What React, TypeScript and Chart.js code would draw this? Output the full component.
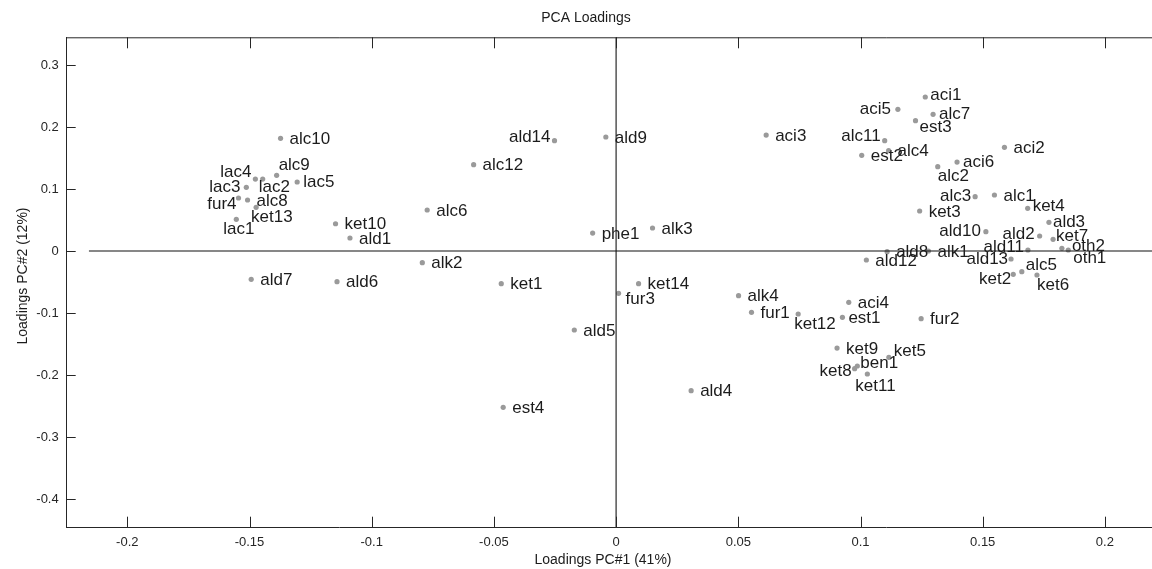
import React, { useEffect, useRef } from "react";
import { Chart, registerables } from "chart.js";

Chart.register(...registerables);

// ---- data ----
const variableNames = [
  "aci1", "aci2", "aci3", "aci4", "aci5", "aci6",
  "alc1", "alc2", "alc3", "alc4", "alc5", "alc6", "alc7", "alc8", "alc9", "alc10", "alc11", "alc12",
  "ald1", "ald2", "ald3", "ald4", "ald5", "ald6", "ald7", "ald8", "ald9", "ald10", "ald11", "ald12", "ald13", "ald14",
  "alk1", "alk2", "alk3", "alk4",
  "ben1",
  "est1", "est2", "est3", "est4",
  "fur1", "fur2", "fur3", "fur4",
  "ket1", "ket2", "ket3", "ket4", "ket5", "ket6", "ket7", "ket8", "ket9", "ket10", "ket11", "ket12", "ket13", "ket14",
  "lac1", "lac2", "lac3", "lac4", "lac5",
  "oth1", "oth2",
  "phe1",
];

const pc1Loadings = [
  0.1265, 0.1589, 0.0614, 0.0952, 0.1153, 0.1395,
  0.1548, 0.1316, 0.1469, 0.1115, 0.166, -0.0773, 0.1297, -0.1508, -0.1389, -0.1373, 0.1099, -0.0583,
  -0.1089, 0.1733, 0.1771, 0.0307, -0.0171, -0.1142, -0.1493, 0.1109, -0.0042, 0.1513, 0.1685, 0.1024, 0.1616, -0.0252,
  0.1278, -0.0793, 0.0149, 0.0501,
  0.0987,
  0.0926, 0.1005, 0.1225, -0.0462,
  0.0554, 0.1248, 0.001, -0.1545,
  -0.047, 0.1625, 0.1242, 0.1684, 0.1116, 0.1722, 0.1788, 0.0976, 0.0904, -0.1148, 0.1028, 0.0745, -0.1473, 0.0092,
  -0.1554, -0.1446, -0.1513, -0.1476, -0.1305,
  0.185, 0.1824,
  -0.0096,
];

const pc2Loadings = [
  0.2484, 0.1672, 0.187, -0.0828, 0.2285, 0.1435,
  0.0903, 0.136, 0.0876, 0.1618, -0.0333, 0.0661, 0.2204, 0.0823, 0.1221, 0.1818, 0.1779, 0.1392,
  0.021, 0.0242, 0.0463, -0.2253, -0.1274, -0.0495, -0.0457, -0.0011, 0.1839, 0.0312, 0.0016, -0.0145, -0.0129, 0.1779,
  0.0, -0.0188, 0.0371, -0.072,
  -0.1855,
  -0.107, 0.1543, 0.2102, -0.2522,
  -0.0989, -0.1091, -0.0683, 0.0855,
  -0.0527, -0.0376, 0.0645, 0.0688, -0.1715, -0.0387, 0.0188, -0.1898, -0.1565, 0.044, -0.1984, -0.1016, 0.0705, -0.0527,
  0.0511, 0.1161, 0.1027, 0.1161, 0.1113,
  0.0016, 0.0043,
  0.029,
];

const chartTitle = "PCA Loadings";
const xAxisTitle = "Loadings PC#1 (41%)";
const yAxisTitle = "Loadings PC#2 (12%)";

const xRange = [-0.2248, 0.2223];
const yRange = [-0.4463, 0.3447];
const xTickStep = 0.05;
const yTickStep = 0.1;
const horizontalRefLineX = [-0.2157, 0.2223];

// label placement: [anchor side, dx px, dy px] (layout only)
const defaultPlacement: [string, number, number] = ["l", 9, 1];
const labelPlacement: Record<string, [string, number, number]> = {
  alc9: ["l", 2, -10],
  lac4: ["r", -4, -7],
  lac2: ["l", -4, 8],
  lac5: ["l", 6, 0],
  lac3: ["r", -6, 0],
  fur4: ["r", -2, 6],
  ket13: ["l", -5, 10],
  lac1: ["l", -13, 10],
  ald14: ["r", -4, -3],
  fur3: ["l", 7, 6],
  ket12: ["l", -4, 10],
  est1: ["l", 6, 1],
  ket5: ["l", 5, -6],
  ben1: ["l", 3, -3],
  ket8: ["r", -3, 3],
  ket11: ["l", -12, 12],
  aci1: ["l", 5, -2],
  aci5: ["r", -7, 0],
  alc7: ["l", 6, 0],
  est3: ["l", 4, 7],
  alc11: ["r", -4, -4],
  alc2: ["l", 0, 10],
  aci6: ["l", 6, 0],
  alc3: ["r", -4, 0],
  ket4: ["l", 5, -2],
  ald3: ["l", 4, 0],
  ald10: ["r", -5, 0],
  ald2: ["r", -5, -2],
  ket7: ["l", 3, -3],
  oth2: ["l", 10, -2],
  oth1: ["l", 5, 8],
  ald11: ["r", -4, -3],
  ald13: ["r", -3, 0],
  alc5: ["l", 4, -6],
  ket6: ["l", 0, 10],
  ket2: ["r", -2, 5],
};

const FONT = "'Liberation Sans', Arial, Helvetica, sans-serif";
const AXIS_COLOR = "#262626";
const CANVAS_W = 1162;
const CANVAS_H = 569;

const fmt = (v: number) => String(Math.round(v * 100) / 100);

const overlayPlugin = {
  id: "pcaOverlay",
  afterDatasetsDraw(chart: any) {
    const ctx = chart.ctx;
    const meta = chart.getDatasetMeta(0);
    ctx.save();
    ctx.font = `17px ${FONT}`;
    ctx.fillStyle = "#1c1c1c";
    ctx.textBaseline = "middle";
    meta.data.forEach((pt: any, i: number) => {
      const name = variableNames[i];
      const [side, dx, dy] = labelPlacement[name] || defaultPlacement;
      ctx.textAlign = side === "r" ? "right" : "left";
      ctx.fillText(name, pt.x + dx, pt.y + dy);
    });
    ctx.restore();
  },
  afterDraw(chart: any) {
    const ctx = chart.ctx;
    const { left, right, top, bottom } = chart.chartArea;
    const xs = chart.scales.x;
    const ys = chart.scales.y;
    ctx.save();
    ctx.strokeStyle = AXIS_COLOR;
    ctx.lineWidth = 1;
    // top frame line
    ctx.beginPath();
    ctx.moveTo(left, top + 0.5);
    ctx.lineTo(right, top + 0.5);
    ctx.stroke();
    // inward ticks
    ctx.beginPath();
    xs.ticks.forEach((t: any) => {
      const px = Math.round(xs.getPixelForValue(t.value)) + 0.5;
      ctx.moveTo(px, bottom);
      ctx.lineTo(px, bottom - 11);
      ctx.moveTo(px, top);
      ctx.lineTo(px, top + 11);
    });
    ys.ticks.forEach((t: any) => {
      const py = Math.round(ys.getPixelForValue(t.value)) + 0.5;
      ctx.moveTo(left, py);
      ctx.lineTo(left + 9, py);
    });
    ctx.stroke();
    // titles
    ctx.fillStyle = "#1c1c1c";
    ctx.font = `14px ${FONT}`;
    ctx.textAlign = "center";
    ctx.textBaseline = "middle";
    ctx.fillText(chartTitle, 586, 18);
    ctx.fillText(xAxisTitle, 603, 560);
    ctx.save();
    ctx.translate(23, 276);
    ctx.rotate(-Math.PI / 2);
    ctx.fillText(yAxisTitle, 0, 0);
    ctx.restore();
    ctx.restore();
  },
};

export default function App() {
  const canvasRef = useRef<HTMLCanvasElement | null>(null);

  useEffect(() => {
    if (!canvasRef.current) return;
    const points = pc1Loadings.map((x, i) => ({ x, y: pc2Loadings[i] }));
    const chart = new Chart(canvasRef.current, {
      type: "scatter",
      data: {
        datasets: [
          {
            label: "loadings",
            data: points,
            pointRadius: 2.6,
            pointHoverRadius: 2.6,
            pointBackgroundColor: "#9a9a9a",
            pointBorderWidth: 0,
            order: 2,
          },
          {
            label: "h0",
            data: [
              { x: horizontalRefLineX[0], y: 0 },
              { x: horizontalRefLineX[1], y: 0 },
            ],
            showLine: true,
            borderColor: "#111111",
            borderWidth: 1.2,
            pointRadius: 0,
            order: 1,
          },
          {
            label: "v0",
            data: [
              { x: 0, y: yRange[0] },
              { x: 0, y: yRange[1] },
            ],
            showLine: true,
            borderColor: "#3a3a3a",
            borderWidth: 1.3,
            pointRadius: 0,
            order: 1,
          },
        ],
      },
      options: {
        animation: false,
        responsive: true,
        maintainAspectRatio: false,
        layout: { padding: { top: 37.3, left: 0, right: 0, bottom: 0 } },
        plugins: {
          legend: { display: false },
          tooltip: { enabled: false },
          title: { display: false },
        },
        scales: {
          x: {
            type: "linear",
            min: xRange[0],
            max: xRange[1],
            grid: { display: false, drawTicks: false },
            border: { display: true, color: AXIS_COLOR, width: 1 },
            ticks: {
              stepSize: xTickStep,
              includeBounds: false,
              autoSkip: false,
              maxRotation: 0,
              padding: 7,
              color: AXIS_COLOR,
              font: { family: FONT, size: 13 },
              callback: (v: any) => fmt(Number(v)),
            },
            afterFit: (scale: any) => {
              scale.height = CANVAS_H - 527.7;
            },
          },
          y: {
            type: "linear",
            min: yRange[0],
            max: yRange[1],
            grid: { display: false, drawTicks: false },
            border: { display: true, color: AXIS_COLOR, width: 1 },
            ticks: {
              stepSize: yTickStep,
              includeBounds: false,
              autoSkip: false,
              padding: 8,
              color: AXIS_COLOR,
              font: { family: FONT, size: 13 },
              callback: (v: any) => fmt(Number(v)),
            },
            afterFit: (scale: any) => {
              scale.width = 66.7;
            },
          },
        },
      },
      plugins: [overlayPlugin],
    });
    return () => chart.destroy();
  }, []);

  return (
    <div
      style={{
        position: "fixed",
        left: 0,
        top: 0,
        width: 1152,
        height: CANVAS_H,
        overflow: "hidden",
        background: "#ffffff",
      }}
    >
      <div style={{ position: "relative", width: CANVAS_W, height: CANVAS_H }}>
        <canvas ref={canvasRef} />
      </div>
    </div>
  );
}
